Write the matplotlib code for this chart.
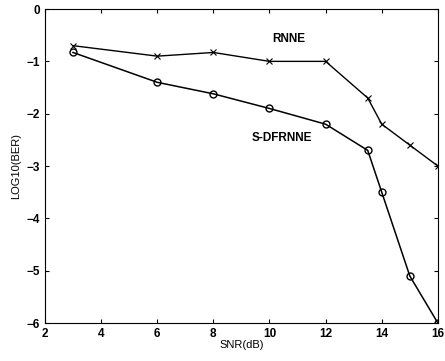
import matplotlib
matplotlib.use('Agg')
import matplotlib.pyplot as plt

snr = [3, 6, 8, 10, 12, 13.5, 14, 15, 16]
rnne = [-0.7, -0.9, -0.83, -1.0, -1.0, -1.7, -2.2, -2.6, -3.0]
sdfrnne = [-0.83, -1.4, -1.62, -1.9, -2.2, -2.7, -3.5, -5.1, -6.0]

plt.rcParams['font.family'] = ['Liberation Sans', 'DejaVu Sans']
fig = plt.figure(figsize=(4.45, 3.61), dpi=100)
ax = fig.add_axes([0.101, 0.105, 0.883, 0.870])
ax.plot(snr, rnne, 'k-', marker='x', ms=4, mew=0.8, lw=1)
ax.plot(snr, sdfrnne, 'k-', marker='o', ms=5, mfc='none', mew=1, lw=1.1)
ax.text(10.7, -0.57, 'RNNE', ha='center', va='center', fontsize=8.5, fontweight='bold')
ax.text(10.45, -2.46, 'S-DFRNNE', ha='center', va='center', fontsize=8.5, fontweight='bold')
ax.set_xlim(2, 16)
ax.set_ylim(-6, 0)
ax.set_xticks([2, 4, 6, 8, 10, 12, 14, 16])
ax.set_yticks([-6, -5, -4, -3, -2, -1, 0])
ax.tick_params(direction='in', top=True, right=True, labelsize=8.5, length=3)
for lab in ax.get_xticklabels() + ax.get_yticklabels():
    lab.set_fontweight('bold')
ax.set_xlabel('SNR(dB)', fontsize=8, labelpad=0)
ax.set_ylabel('LOG10(BER)', fontsize=8, labelpad=4)
fig.savefig('out.png', dpi=100)
